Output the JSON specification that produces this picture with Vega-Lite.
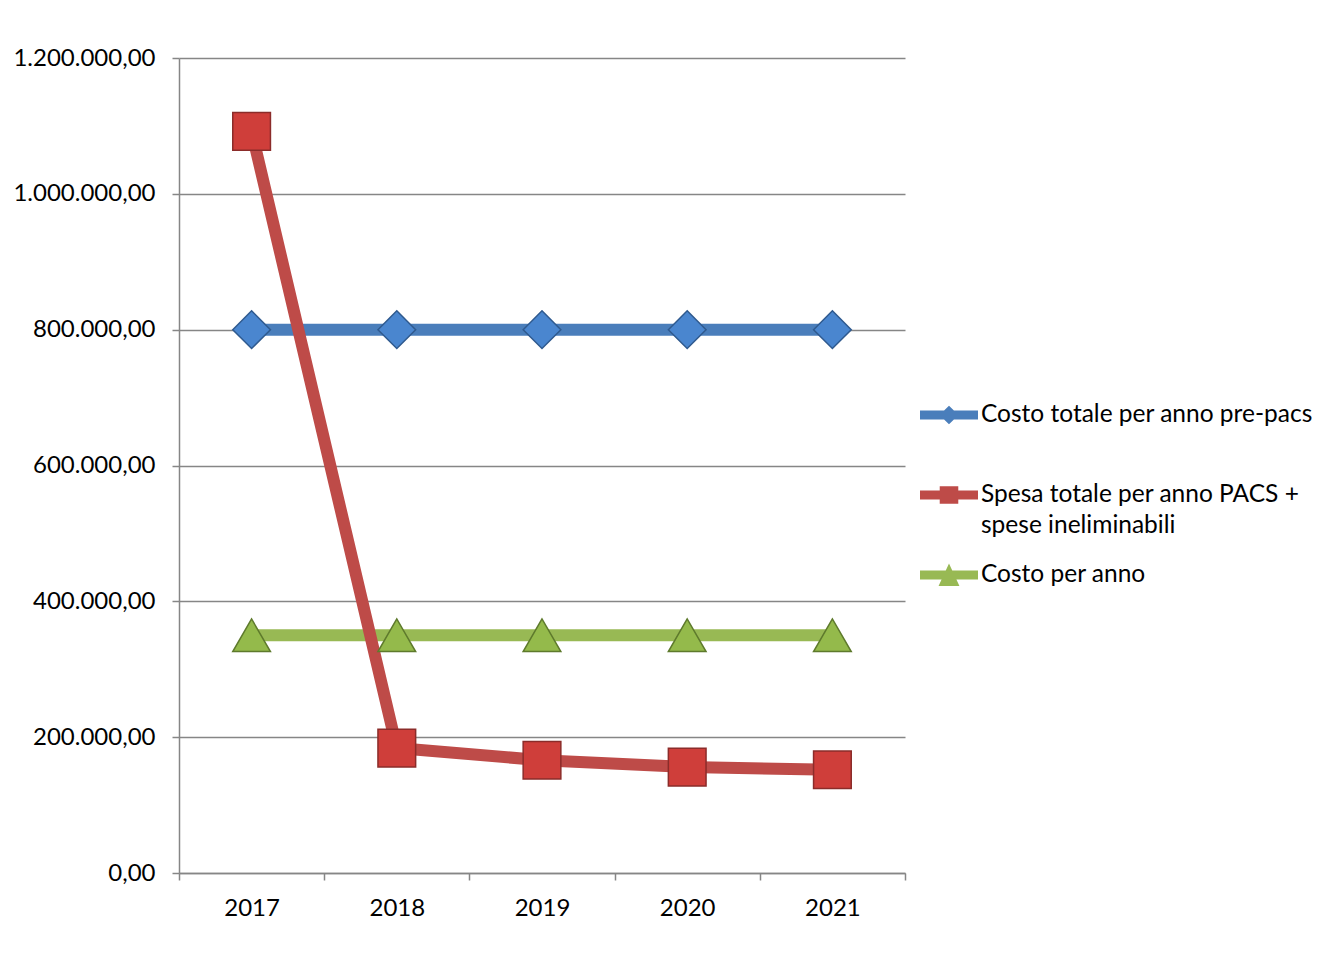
{
  "$schema": "https://vega.github.io/schema/vega-lite/v6.json",
  "width": 726,
  "height": 815,
  "autosize": {"type": "none"},
  "padding": {"left": 179, "top": 58, "right": 435, "bottom": 82},
  "background": "#ffffff",
  "config": {
    "locale": {"number": {"decimal": ",", "thousands": ".", "grouping": [3], "currency": ["", " €"]}},
    "font": "Lato",
    "view": {"stroke": null},
    "axis": {
      "labelFont": "Lato",
      "labelFontSize": 24,
      "labelColor": "#000000",
      "domainColor": "#868686",
      "domainWidth": 1.5,
      "tickColor": "#868686",
      "tickWidth": 1.5,
      "tickSize": 7,
      "gridColor": "#868686",
      "gridWidth": 1.5,
      "title": null
    }
  },
  "data": {
    "values": [
      {"anno": "2017", "serie": "Costo totale per anno pre-pacs", "valore": 800000},
      {"anno": "2018", "serie": "Costo totale per anno pre-pacs", "valore": 800000},
      {"anno": "2019", "serie": "Costo totale per anno pre-pacs", "valore": 800000},
      {"anno": "2020", "serie": "Costo totale per anno pre-pacs", "valore": 800000},
      {"anno": "2021", "serie": "Costo totale per anno pre-pacs", "valore": 800000},
      {"anno": "2017", "serie": "Costo per anno", "valore": 350000},
      {"anno": "2018", "serie": "Costo per anno", "valore": 350000},
      {"anno": "2019", "serie": "Costo per anno", "valore": 350000},
      {"anno": "2020", "serie": "Costo per anno", "valore": 350000},
      {"anno": "2021", "serie": "Costo per anno", "valore": 350000},
      {"anno": "2017", "serie": "Spesa totale per anno PACS + spese ineliminabili", "valore": 1092000},
      {"anno": "2018", "serie": "Spesa totale per anno PACS + spese ineliminabili", "valore": 184000},
      {"anno": "2019", "serie": "Spesa totale per anno PACS + spese ineliminabili", "valore": 166000},
      {"anno": "2020", "serie": "Spesa totale per anno PACS + spese ineliminabili", "valore": 156000},
      {"anno": "2021", "serie": "Spesa totale per anno PACS + spese ineliminabili", "valore": 152000}
    ]
  },
  "encoding": {
    "x": {
      "field": "anno",
      "type": "ordinal",
      "bandPosition": 0.5,
      "scale": {"type": "band", "paddingInner": 0, "paddingOuter": 0},
      "axis": {"tickBand": "extent", "labelAngle": 0, "labelPadding": 16, "grid": false}
    },
    "y": {
      "field": "valore",
      "type": "quantitative",
      "scale": {"domain": [0, 1200000]},
      "axis": {
        "values": [0, 200000, 400000, 600000, 800000, 1000000, 1200000],
        "format": ",.2f",
        "labelPadding": 17,
        "grid": true
      }
    }
  },
  "layer": [
    {
      "mark": {"type": "line", "strokeWidth": 12, "interpolate": "linear", "strokeJoin": "round"},
      "encoding": {
        "color": {
          "field": "serie",
          "type": "nominal",
          "scale": {
            "domain": ["Costo totale per anno pre-pacs", "Spesa totale per anno PACS + spese ineliminabili", "Costo per anno"],
            "range": ["#4A7EBB", "#BE4B48", "#98B954"]
          },
          "legend": null
        }
      }
    },
    {
      "mark": {"type": "point", "filled": true, "opacity": 1, "size": 1420, "strokeWidth": 1.5},
      "encoding": {
        "shape": {
          "field": "serie",
          "type": "nominal",
          "scale": {
            "domain": ["Costo totale per anno pre-pacs", "Spesa totale per anno PACS + spese ineliminabili", "Costo per anno"],
            "range": ["diamond", "square", "triangle-up"]
          },
          "legend": null
        },
        "fill": {
          "field": "serie",
          "type": "nominal",
          "scale": {
            "domain": ["Costo totale per anno pre-pacs", "Spesa totale per anno PACS + spese ineliminabili", "Costo per anno"],
            "range": ["#4A86CF", "#CF3E3A", "#94BA4B"]
          },
          "legend": null
        },
        "stroke": {
          "field": "serie",
          "type": "nominal",
          "scale": {
            "domain": ["Costo totale per anno pre-pacs", "Spesa totale per anno PACS + spese ineliminabili", "Costo per anno"],
            "range": ["#2F5A8F", "#8B2C2A", "#5E7A2C"]
          },
          "legend": null
        }
      }
    },
    {
      "mark": {"type": "point", "filled": true, "opacity": 0},
      "encoding": {
        "color": {
          "field": "serie",
          "type": "nominal",
          "legend": {
            "orient": "none",
            "legendX": 741,
            "legendY": 328,
            "title": null,
            "padding": 0,
            "labelFont": "Lato",
            "labelFontSize": 24.5,
            "labelColor": "#000000",
            "labelOffset": 3,
            "labelLimit": 500,
            "rowPadding": 8,
            "symbolSize": 3364,
            "symbolStrokeWidth": 0,
            "symbolOpacity": 1,
            "labelExpr": "datum.label == 'Spesa totale per anno PACS + spese ineliminabili' ? ['Spesa totale per anno PACS +', 'spese ineliminabili'] : [datum.label, '']",
            "encode": {"labels": {"update": {"lineHeight": {"value": 31}}}}
          }
        },
        "shape": {
          "field": "serie",
          "type": "nominal",
          "scale": {
            "domain": ["Costo totale per anno pre-pacs", "Spesa totale per anno PACS + spese ineliminabili", "Costo per anno"],
            "range": [
              "M-1,-0.155H1V0.155H-1Z M0,-0.32L0.33,0L0,0.32L-0.33,0Z",
              "M-1,-0.155H1V0.155H-1Z M-0.32,-0.3H0.32V0.3H-0.32Z",
              "M-1,-0.155H1V0.155H-1Z M0,-0.4L0.36,0.38H-0.36Z"
            ]
          },
          "legend": {
            "orient": "none",
            "legendX": 741,
            "legendY": 328,
            "title": null,
            "padding": 0,
            "labelFont": "Lato",
            "labelFontSize": 24.5,
            "labelColor": "#000000",
            "labelOffset": 3,
            "labelLimit": 500,
            "rowPadding": 8,
            "symbolSize": 3364,
            "symbolStrokeWidth": 0,
            "symbolOpacity": 1,
            "labelExpr": "datum.label == 'Spesa totale per anno PACS + spese ineliminabili' ? ['Spesa totale per anno PACS +', 'spese ineliminabili'] : [datum.label, '']",
            "encode": {"labels": {"update": {"lineHeight": {"value": 31}}}}
          }
        }
      }
    }
  ],
  "resolve": {
    "scale": {"shape": "independent"},
    "legend": {"shape": "independent", "color": "independent"}
  }
}
